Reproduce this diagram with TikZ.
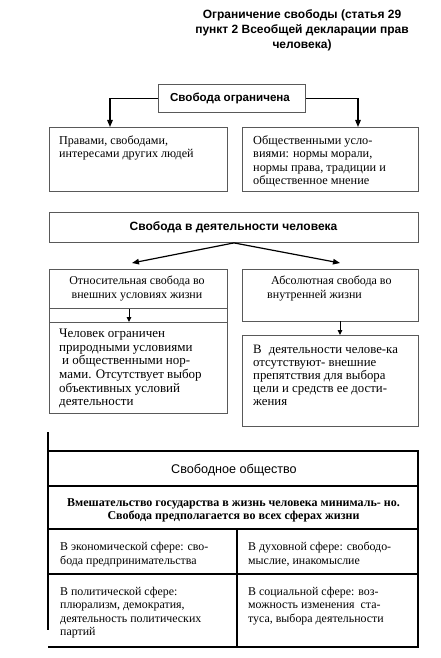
\documentclass[tikz,border=0pt]{standalone}
\usepackage{fontspec}
\setmainfont{Liberation Serif}
\setsansfont{Liberation Sans}
\usetikzlibrary{arrows.meta,calc}
\begin{document}
\begin{tikzpicture}[x=1pt,y=-1pt,
  box/.style={draw=black!65, line width=0.9pt, inner sep=0pt, anchor=north west},
  conn/.style={line width=1.2pt, -{Triangle[length=7pt,width=5.5pt]}},
  tline/.style={line width=1.1pt, black},
  txt/.style={inner sep=0pt, anchor=north west, align=left, font=\fontsize{12.3}{13.4}\selectfont},
  ctxt/.style={inner sep=0pt, align=center, font=\fontsize{12}{14}\selectfont},
  head/.style={inner sep=0pt, align=center, font=\sffamily\bfseries\fontsize{12}{15.2}\selectfont},
]
\useasboundingbox (0,0) rectangle (441,658);

% title
\node[head] (title) at (302,30.5) {Ограничение свободы (статья 29\\пункт 2 Всеобщей декларации прав\\человека)};

% first block
\node[box, minimum width=147pt, minimum height=28pt] (og) at (158,84) {};
\node[head, font=\sffamily\bfseries\fontsize{11.6}{15}\selectfont] (ogt) at (230,98) {Свобода ограничена};
\node[box, minimum width=178pt, minimum height=64pt] (lb) at (49,127) {};
\node[box, minimum width=176pt, minimum height=64pt] (rb) at (242,127) {};
\node[txt, font=\fontsize{12.1}{12.6}\selectfont] (lbt) at (59,136) {Правами, свободами,\\интересами других людей};
\node[txt] (rbt) at (253,135.5) {Общественными усло-\\виями: нормы морали,\\нормы права, традиции и\\общественное мнение};
\coordinate (lbin) at (110,127);
\coordinate (rbin) at (358,127);
\draw[conn] (og.west) -| (lbin);
\draw[conn] (og.east) -| (rbin);

% second block
\node[box, minimum width=369pt, minimum height=30pt] (act) at (49,212) {};
\node[head] (actt) at (233.5,227.5) {Свобода в деятельности человека};
\coordinate (lend) at (132,263);
\coordinate (rend) at (340,263);
\draw[conn] (act.south) -- (lend);
\draw[conn] (act.south) -- (rend);

\node[box, minimum width=178pt, minimum height=39pt] (rel) at (49,269) {};
\node[box, minimum width=178pt, minimum height=14pt] (relf) at (49,308) {};
\node[ctxt] (relt) at (137,288.5) {Относительная свобода во\\внешних условиях жизни};
\node[box, minimum width=176pt, minimum height=52pt] (abs) at (242,269) {};
\node[txt, font=\fontsize{12}{14}\selectfont] (abst) at (267,276) {\hspace*{4pt}Абсолютная свобода во\\внутренней жизни};

\node[box, minimum width=178pt, minimum height=91pt] (relb) at (49,322) {};
\node[txt, font=\fontsize{13}{13.6}\selectfont] (relbt) at (59,329) {Человек ограничен\\природными условиями\\\hspace*{3pt}и общественными нор-\\мами. Отсутствует выбор\\объективных условий\\деятельности};
\node[box, minimum width=176pt, minimum height=91pt] (absb) at (242,335) {};
\node[txt, font=\fontsize{12.8}{13.1}\selectfont] (absbt) at (253,345) {В\hspace{4pt} деятельности челове-ка\\отсутствуют- внешние\\препятствия для выбора\\цели и средств ее дости-\\жения};
\coordinate (arl1) at (129,309);
\coordinate (arl2) at (129,322);
\draw[conn, line width=1pt, -{Triangle[length=5pt,width=4.5pt]}] (arl1) -- (arl2);
\coordinate (arr1) at (340,321);
\coordinate (arr2) at (340,335);
\draw[conn, line width=1pt, -{Triangle[length=5pt,width=4.5pt]}] (arr1) -- (arr2);

% table
\coordinate (tl) at (48,451);
\coordinate (tr) at (418,451);
\coordinate (br) at (418,647);
\coordinate (bl) at (48,647);
\coordinate (lt) at (48,432);
\coordinate (lb2) at (48,630);
\coordinate (r1l) at (48,486);
\coordinate (r1r) at (418,486);
\coordinate (r2l) at (48,529);
\coordinate (r2r) at (418,529);
\coordinate (r3l) at (48,574);
\coordinate (r3r) at (418,574);
\coordinate (vt) at (237,529);
\coordinate (vb) at (237,647);
\draw[tline] (tl) -- (tr) -- (br) -- (bl);
\draw[tline] (lt) -- (lb2);
\draw[tline] (r1l) -- (r1r);
\draw[tline] (r2l) -- (r2r);
\draw[tline] (r3l) -- (r3r);
\draw[tline] (vt) -- (vb);

\node[inner sep=0pt, font=\sffamily\fontsize{12.6}{13}\selectfont] (sot) at (234,470.5) {Свободное общество};
\node[ctxt, font=\bfseries\fontsize{12}{13.2}\selectfont] (gov) at (233.5,510.5) {Вмешательство государства в жизнь человека минималь- но.\\Свобода предполагается во всех сферах жизни};
\node[txt, font=\fontsize{11.9}{13.6}\selectfont] (c11) at (60,542) {В экономической сфере: сво-\\бода предпринимательства};
\node[txt, font=\fontsize{11.9}{13.6}\selectfont] (c12) at (248,542) {В духовной сфере: свободо-\\мыслие, инакомыслие};
\node[txt, font=\fontsize{11.9}{13.5}\selectfont] (c21) at (60,587) {В политической сфере:\\плюрализм, демократия,\\деятельность политических\\партий};
\node[txt, font=\fontsize{11.9}{13.5}\selectfont] (c22) at (248,587) {В социальной сфере: воз-\\можность изменения \ ста-\\туса, выбора деятельности};
\end{tikzpicture}
\end{document}
